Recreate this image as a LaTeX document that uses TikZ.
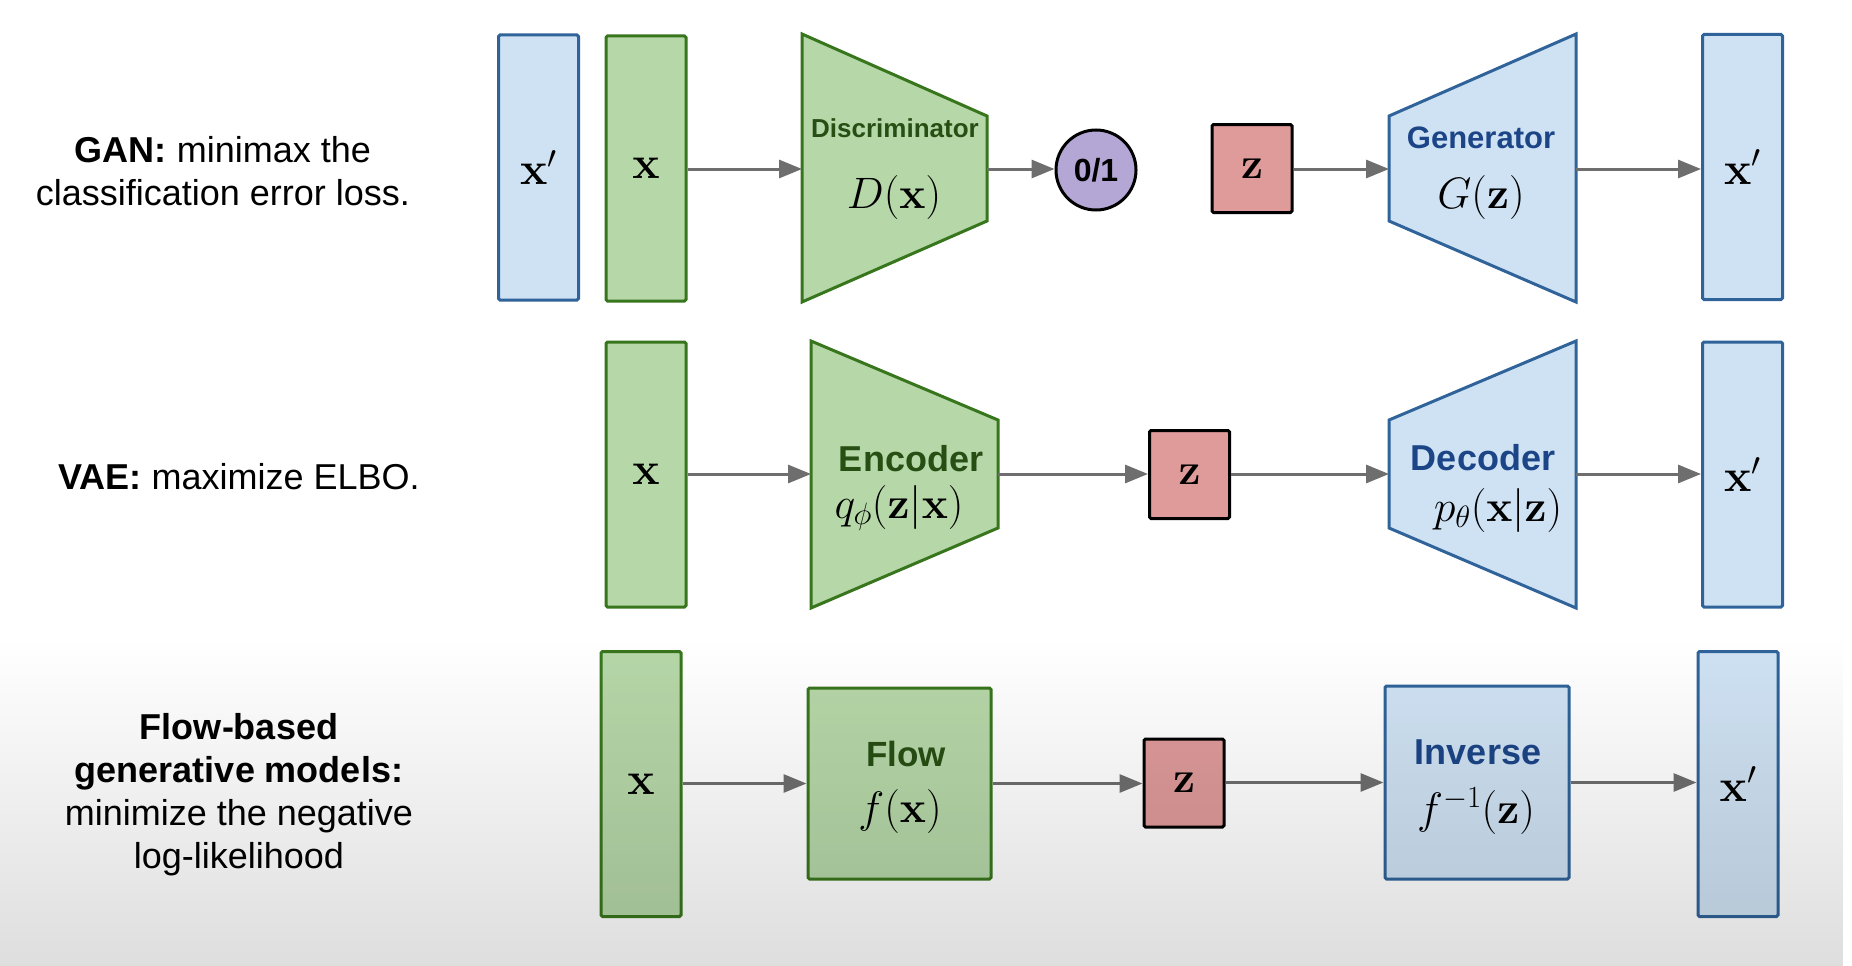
\RequirePackage{fix-cm}
\documentclass[tikz,border=0pt]{standalone}
\usepackage[no-math]{fontspec}
\setmainfont{Liberation Sans}
\usetikzlibrary{arrows.meta,fadings}
\definecolor{bluefill}{HTML}{CFE2F3}
\definecolor{blueline}{HTML}{2F6399}
\definecolor{greenfill}{HTML}{B6D7A8}
\definecolor{greenline}{HTML}{38761D}
\definecolor{redfill}{HTML}{DF9A9A}
\definecolor{purplefill}{HTML}{B4A7D6}
\definecolor{arrowgray}{HTML}{6E6E6E}
\definecolor{darkgreentext}{HTML}{274E13}
\definecolor{darkbluetext}{HTML}{1C4587}
\tikzfading[name=fadeup, top color=transparent!100, bottom color=transparent!0]
\begin{document}
\begin{tikzpicture}[x=1pt,y=-1pt,
  bluebox/.style={draw=blueline, fill=bluefill, line width=3pt, inner sep=0pt, rounded corners=1.5pt},
  greenbox/.style={draw=greenline, fill=greenfill, line width=3pt, inner sep=0pt, rounded corners=1.5pt},
  zbox/.style={draw=black, fill=redfill, line width=3pt, inner sep=0pt, rounded corners=1.5pt, minimum width=80pt, minimum height=88pt, font=\fontsize{44}{50}\selectfont},
  tallbox/.style={minimum width=80pt, minimum height=265pt, font=\fontsize{46}{52}\selectfont},
  conn/.style={draw=arrowgray, line width=3pt, -{Triangle[length=23pt,width=18pt]}},
  mathlbl/.style={inner sep=0pt, font=\fontsize{44}{50}\selectfont},
  gtitle/.style={inner sep=0pt, text=darkgreentext, font=\bfseries\fontsize{36}{40}\selectfont},
  btitle/.style={inner sep=0pt, text=darkbluetext, font=\bfseries\fontsize{36}{40}\selectfont},
  sidelbl/.style={align=center, inner sep=0pt, font=\fontsize{36}{43}\selectfont}
]
\useasboundingbox (0,0) rectangle (1852,966);
\fill[white] (0,0) rectangle (1852,966);

% ---------- left labels ----------
\node[sidelbl] (lgan) at (223,171) {\textbf{GAN:} minimax the\\classification error loss.};
\node[sidelbl] (lvae) at (239,477) {\textbf{VAE:} maximize ELBO.};
\node[sidelbl] (lflow) at (239,795) {\textbf{Flow-based}\\\textbf{generative models:}\\minimize the negative\\log-likelihood};

% ---------- GAN row ----------
\node[bluebox, tallbox] (gxp) at (538.5,167.5) {$\mathbf{x}'$};
\node[greenbox, tallbox] (gx) at (646,168.5) {$\mathbf{x}$};
\draw[greenbox, rounded corners=0pt] (802,34) -- (987,116) -- (987,221) -- (802,302) -- cycle;
\coordinate (disc-w) at (802,169);
\coordinate (disc-e) at (987,169);
\node[gtitle, font=\bfseries\fontsize{26}{30}\selectfont] (disct) at (895,128) {Discriminator};
\node[mathlbl] (discm) at (894,197) {$D(\mathbf{x})$};
\node[circle, draw=black, fill=purplefill, line width=3pt, minimum size=80pt, inner sep=0pt, font=\bfseries\fontsize{32}{36}\selectfont] (gout) at (1096,170) {0/1};
\node[zbox] (gz) at (1252,168.5) {$\mathbf{z}$};
\draw[bluebox, rounded corners=0pt] (1389,116) -- (1576,34) -- (1576,302) -- (1389,221) -- cycle;
\coordinate (gen-w) at (1389,169);
\coordinate (gen-e) at (1576,169);
\node[btitle, font=\bfseries\fontsize{31}{35}\selectfont] (gent) at (1481,138) {Generator};
\node[mathlbl] (genm) at (1481,197) {$G(\mathbf{z})$};
\node[bluebox, tallbox] (gxp2) at (1742.5,167) {$\mathbf{x}'$};

\draw[conn] (gx.east |- disc-w) -- (disc-w);
\draw[conn] (disc-e) -- (gout.west |- disc-e);
\draw[conn] (gz.east |- gen-w) -- (gen-w);
\draw[conn] (gen-e) -- (gxp2.west |- gen-e);

% ---------- VAE row ----------
\node[greenbox, tallbox] (vx) at (646,474.5) {$\mathbf{x}$};
\draw[greenbox, rounded corners=0pt] (811,341) -- (998,420) -- (998,528) -- (811,608) -- cycle;
\coordinate (enc-w) at (811,474);
\coordinate (enc-e) at (998,474);
\node[gtitle] (enct) at (911,459) {Encoder};
\node[mathlbl] (encm) at (899,508) {$q_\phi(\mathbf{z}|\mathbf{x})$};
\node[zbox] (vz) at (1189.5,474.5) {$\mathbf{z}$};
\draw[bluebox, rounded corners=0pt] (1389,420) -- (1576,341) -- (1576,608) -- (1389,528) -- cycle;
\coordinate (dec-w) at (1389,474);
\coordinate (dec-e) at (1576,474);
\node[btitle] (dect) at (1483,458) {Decoder};
\node[mathlbl] (decm) at (1498,510) {$p_\theta(\mathbf{x}|\mathbf{z})$};
\node[bluebox, tallbox] (vxp) at (1742.5,474.5) {$\mathbf{x}'$};

\draw[conn] (vx.east |- enc-w) -- (enc-w);
\draw[conn] (enc-e) -- (vz.west |- enc-e);
\draw[conn] (vz.east |- dec-w) -- (dec-w);
\draw[conn] (dec-e) -- (vxp.west |- dec-e);

% ---------- Flow row ----------
\node[greenbox, tallbox] (fx) at (641,784) {$\mathbf{x}$};
\node[greenbox, minimum width=183pt, minimum height=191pt] (flow) at (899.5,783.5) {};
\node[gtitle, font=\bfseries\fontsize{35}{40}\selectfont] (flowt) at (906,754) {Flow};
\node[mathlbl] (flowm) at (900,811) {$f(\mathbf{x})$};
\node[zbox] (fz) at (1184,783) {$\mathbf{z}$};
\node[bluebox, minimum width=184pt, minimum height=193pt] (inv) at (1477,782.5) {};
\node[btitle] (invt) at (1478,752) {Inverse};
\node[mathlbl] (invm) at (1476,811) {$f^{-1}(\mathbf{z})$};
\node[bluebox, tallbox] (fxp) at (1738,784) {$\mathbf{x}'$};

\draw[conn] (fx.east |- flow.west) -- (flow.west);
\draw[conn] (flow.east) -- (fz.west |- flow.east);
\draw[conn] (fz.east |- inv.west) -- (inv.west);
\draw[conn] (inv.east) -- (fxp.west |- inv.east);

% ---------- bottom darkening ----------
\fill[black, opacity=0.13, path fading=fadeup] (0,640) rectangle (1852,966);
\end{tikzpicture}
\end{document}
